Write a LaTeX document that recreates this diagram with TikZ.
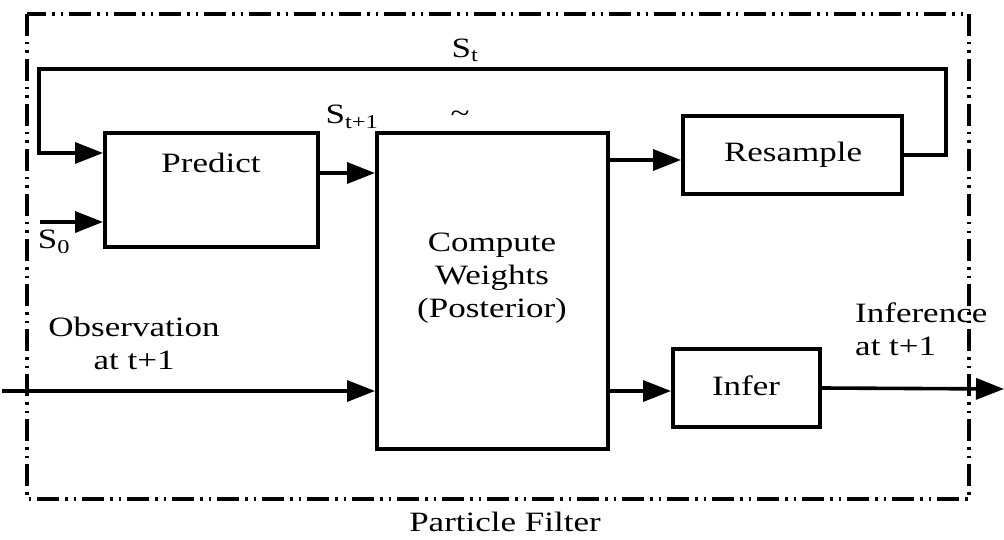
\documentclass[tikz,border=0pt]{standalone}
\usepackage{fontspec}
\setmainfont{Liberation Serif}[FakeStretch=1.25]
\usetikzlibrary{arrows.meta}
\begin{document}
\begin{tikzpicture}[x=1pt,y=-1pt,
  box/.style={draw,line width=4pt,inner sep=0pt},
  wire/.style={line width=3.6pt,line join=miter},
  arr/.style={wire,-{Triangle[length=28pt,width=21pt]}},
  lbl/.style={font=\fontsize{28}{33}\selectfont,inner sep=0pt},
  border/.style={line width=3.2pt,dash pattern=on 22pt off 6pt on 2.5pt off 6pt on 2.5pt off 6pt}]
\useasboundingbox (0,0) rectangle (1004,540);
% frame
\draw[border] (27,14) rectangle (969,499);
% boxes
\node[box,minimum width=213pt,minimum height=114pt] (predict) at (211.5,190) {};
\node[box,minimum width=231pt,minimum height=316pt] (compute) at (492.5,291) {};
\node[box,minimum width=219pt,minimum height=78pt] (resample) at (792.5,155) {};
\node[box,minimum width=147pt,minimum height=78pt] (infer) at (746.5,388) {};
% box texts
\node[lbl] (tpredict) at (211,163) {Predict};
\node[lbl,align=center] (tcompute) at (492,278) {Compute\\Weights\\(Posterior)};
\node[lbl] (tresample) at (793,155) {Resample};
\node[lbl] (tinfer) at (746,386) {Infer};
% coordinates
\coordinate (fbR) at (946,155);
\coordinate (fbTR) at (946,69);
\coordinate (fbTL) at (39,69);
\coordinate (fbBL) at (39,153);
\coordinate (s0) at (40,222);
\coordinate (pcy) at (0,173);
\coordinate (cry) at (0,160);
\coordinate (ciy) at (0,391);
\coordinate (obs) at (2,391);
\coordinate (out) at (1004,389);
% connectors
\draw[arr] (resample.east) -- (fbR) -- (fbTR) -- (fbTL) -- (fbBL) -- (predict.west |- fbBL);
\draw[arr] (s0) -- (predict.west |- s0);
\draw[arr] (predict.east |- pcy) -- (compute.west |- pcy);
\draw[arr] (compute.east |- cry) -- (resample.west |- cry);
\draw[arr] (compute.east |- ciy) -- (infer.west |- ciy);
\draw[arr] (obs) -- (compute.west |- obs);
\draw[arr] (infer.east) -- (out);
% labels
\node[lbl] (st) at (465,50) {S\textsubscript{t}};
\node[lbl] (st1) at (352,117) {S\textsubscript{t+1}};
\node[lbl] (tilde) at (460,117) {\textasciitilde};
\node[lbl] (s0l) at (54,242) {S\textsubscript{0}};
\node[lbl,align=center] (obsl) at (134,343) {Observation\\at t+1};
\node[lbl,align=left,anchor=west] (infl) at (855,329) {Inference\\at t+1};
\node[lbl] (pf) at (505,522) {Particle Filter};
\end{tikzpicture}
\end{document}
